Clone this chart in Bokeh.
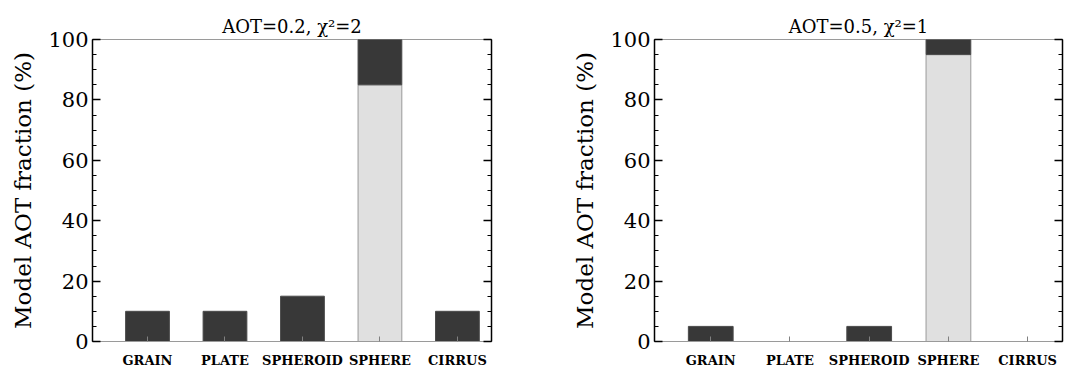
from bokeh.plotting import figure
from bokeh.layouts import row
from bokeh.models import Range1d, FixedTicker, LinearAxis
from bokeh.embed import file_html
from bokeh.resources import INLINE

categories = ["GRAIN", "PLATE", "SPHEROID", "SPHERE", "CIRRUS"]
light_a = [0, 0, 0, 85, 0]
dark_a = [10, 10, 15, 15, 10]
light_b = [0, 0, 0, 95, 0]
dark_b = [5, 0, 5, 5, 0]
titles = ["AOT=0.2, \u03c7\u00b2=2", "AOT=0.5, \u03c7\u00b2=1"]
y_ticks = [0, 20, 40, 60, 80, 100]
y_minor = list(range(0, 101, 5))

FONT = "DejaVu Serif"
DARK = "#383838"
LIGHT = "#e0e0e0"
GRAY = "#9a9a9a"
X0, X1 = -0.71, 4.44


def panel(title, light, dark, border_left, border_right, fw):
    p = figure(width=10, height=10, frame_width=fw, frame_height=302,
               min_border_left=border_left, min_border_right=border_right,
               min_border_top=39, min_border_bottom=27,
               x_range=Range1d(X0, X1), y_range=Range1d(0, 100),
               output_backend="svg", toolbar_location=None, tools="")
    xs = list(range(len(categories)))
    lx = [x for x, v in zip(xs, light) if v > 0]
    lt = [v for v in light if v > 0]
    p.vbar(x=lx, bottom=0, top=lt, width=0.565, fill_color=LIGHT,
           line_color=GRAY, line_width=1)
    dx, db, dt = [], [], []
    for x, l, d in zip(xs, light, dark):
        if d > 0:
            dx.append(x)
            db.append(l)
            dt.append(l + d)
    p.vbar(x=dx, bottom=db, top=dt, width=0.565, fill_color=DARK,
           line_color="#4a4a4a", line_width=1)

    p.title.text = title
    p.title.align = "center"
    p.title.text_font = FONT
    p.title.text_font_size = "18px"
    p.title.text_font_style = "normal"
    p.title.text_color = "black"
    p.title.standoff = 5

    p.xgrid.visible = False
    p.ygrid.visible = False
    p.outline_line_color = GRAY
    p.outline_line_width = 1

    xa = p.xaxis[0]
    xa.ticker = FixedTicker(ticks=xs)
    xa.major_label_overrides = {i: c for i, c in enumerate(categories)}
    xa.axis_line_color = GRAY
    xa.major_tick_line_color = "#808080"
    xa.major_tick_in = 5
    xa.major_tick_out = 0
    xa.minor_tick_line_color = None
    xa.major_label_text_font = FONT
    xa.major_label_text_font_style = "bold"
    xa.major_label_text_font_size = "13px"
    xa.major_label_text_color = "black"
    xa.major_label_standoff = 11

    ya = p.yaxis[0]
    ya.ticker = FixedTicker(ticks=y_ticks, minor_ticks=y_minor)
    ya.axis_line_color = "black"
    ya.axis_line_width = 1.5
    ya.major_tick_in = 8
    ya.major_tick_out = 0
    ya.minor_tick_in = 4
    ya.minor_tick_out = 0
    ya.major_tick_line_width = 1.5
    ya.minor_tick_line_width = 1.2
    ya.major_label_text_font = FONT
    ya.major_label_text_font_size = "21px"
    ya.major_label_text_color = "black"
    ya.major_label_standoff = 4
    ya.axis_label = "Model AOT fraction (%)"
    ya.axis_label_text_font = FONT
    ya.axis_label_text_font_size = "23px"
    ya.axis_label_text_font_style = "normal"
    ya.axis_label_text_color = "black"
    ya.axis_label_standoff = 9

    ra = LinearAxis(ticker=FixedTicker(ticks=y_ticks, minor_ticks=y_minor))
    ra.major_label_text_font_size = "0px"
    ra.major_label_text_alpha = 0
    ra.axis_line_color = "black"
    ra.axis_line_width = 1.5
    ra.major_tick_in = 8
    ra.major_tick_out = 0
    ra.minor_tick_in = 4
    ra.minor_tick_out = 0
    ra.major_tick_line_width = 1.5
    ra.minor_tick_line_width = 1.2
    ra.major_label_standoff = 0
    p.add_layout(ra, "right")

    p.background_fill_color = "white"
    p.border_fill_color = "white"
    return p


p1 = panel(titles[0], light_a, dark_a, 92, 20, 399)
p2 = panel(titles[1], light_b, dark_b, 143, 16, 408)
layout = row(p1, p2)

open("out.html", "w").write(file_html(layout, INLINE))
